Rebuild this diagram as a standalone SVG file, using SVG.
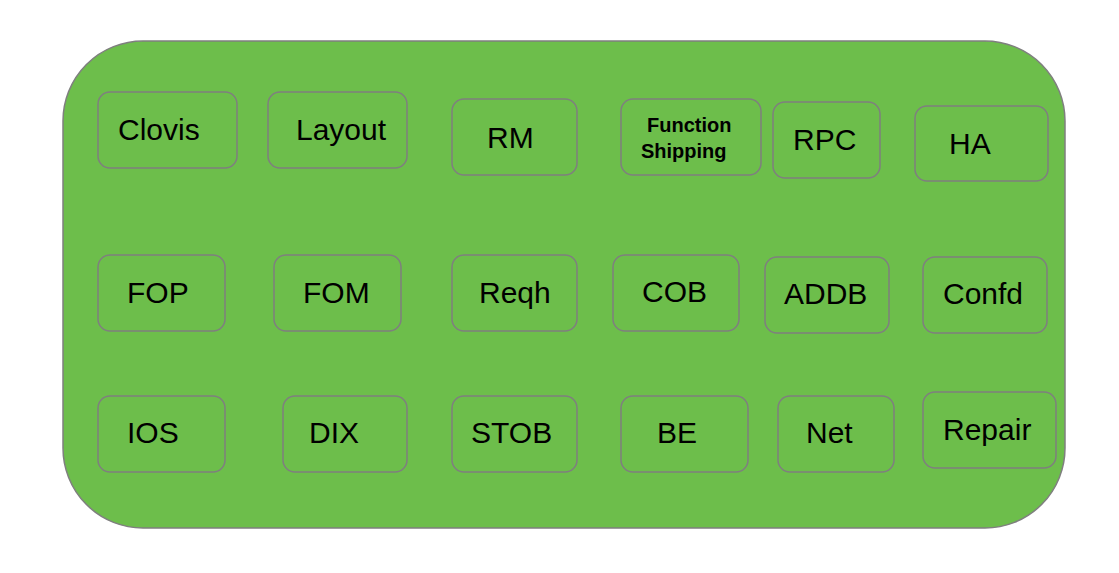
<svg xmlns="http://www.w3.org/2000/svg" width="1119" height="573" viewBox="0 0 1119 573">
  <style>
    .box { fill: #6dbe4b; stroke: #7f7f7f; stroke-width: 1.5; }
    .node rect { fill: #6dbe4b; stroke: #7f7f7f; stroke-width: 1.5; }
    .node text { font-family: "Liberation Sans", Arial, sans-serif; font-size: 30px; fill: #000; }
    .node text.small { font-size: 20px; font-weight: bold; }
  </style>
  <rect width="1119" height="573" fill="#ffffff"/>
  <!-- outer container -->
  <rect class="box" x="63" y="41" width="1002" height="487" rx="80" ry="80"/>

  <!-- row 1 -->
  <g id="clovis" class="node"><rect x="98" y="92" width="139" height="76" rx="12"/><text x="118" y="140">Clovis</text></g>
  <g id="layout" class="node"><rect x="268" y="92" width="139" height="76" rx="12"/><text x="296" y="140">Layout</text></g>
  <g id="rm" class="node"><rect x="452" y="99" width="125" height="76" rx="12"/><text x="487" y="148">RM</text></g>
  <g id="function-shipping" class="node"><rect x="621" y="99" width="140" height="76" rx="12"/><text class="small" x="647" y="132">Function</text><text class="small" x="641" y="158">Shipping</text></g>
  <g id="rpc" class="node"><rect x="773" y="102" width="107" height="76" rx="12"/><text x="793" y="150">RPC</text></g>
  <g id="ha" class="node"><rect x="915" y="106" width="133" height="75" rx="12"/><text x="949" y="154">HA</text></g>

  <!-- row 2 -->
  <g id="fop" class="node"><rect x="98" y="255" width="127" height="76" rx="12"/><text x="127" y="303">FOP</text></g>
  <g id="fom" class="node"><rect x="274" y="255" width="127" height="76" rx="12"/><text x="303" y="303">FOM</text></g>
  <g id="reqh" class="node"><rect x="452" y="255" width="125" height="76" rx="12"/><text x="479" y="303">Reqh</text></g>
  <g id="cob" class="node"><rect x="613" y="255" width="126" height="76" rx="12"/><text x="642" y="302">COB</text></g>
  <g id="addb" class="node"><rect x="765" y="257" width="124" height="76" rx="12"/><text x="784" y="304">ADDB</text></g>
  <g id="confd" class="node"><rect x="923" y="257" width="124" height="76" rx="12"/><text x="943" y="304">Confd</text></g>

  <!-- row 3 -->
  <g id="ios" class="node"><rect x="98" y="396" width="127" height="76" rx="12"/><text x="127" y="443">IOS</text></g>
  <g id="dix" class="node"><rect x="283" y="396" width="124" height="76" rx="12"/><text x="309" y="443">DIX</text></g>
  <g id="stob" class="node"><rect x="452" y="396" width="125" height="76" rx="12"/><text x="471" y="443">STOB</text></g>
  <g id="be" class="node"><rect x="621" y="396" width="127" height="76" rx="12"/><text x="657" y="443">BE</text></g>
  <g id="net" class="node"><rect x="778" y="396" width="116" height="76" rx="12"/><text x="806" y="443">Net</text></g>
  <g id="repair" class="node"><rect x="923" y="392" width="133" height="76" rx="12"/><text x="943" y="440">Repair</text></g>

  <!-- no connectors in this diagram -->
  <g id="connectors"/>
</svg>
